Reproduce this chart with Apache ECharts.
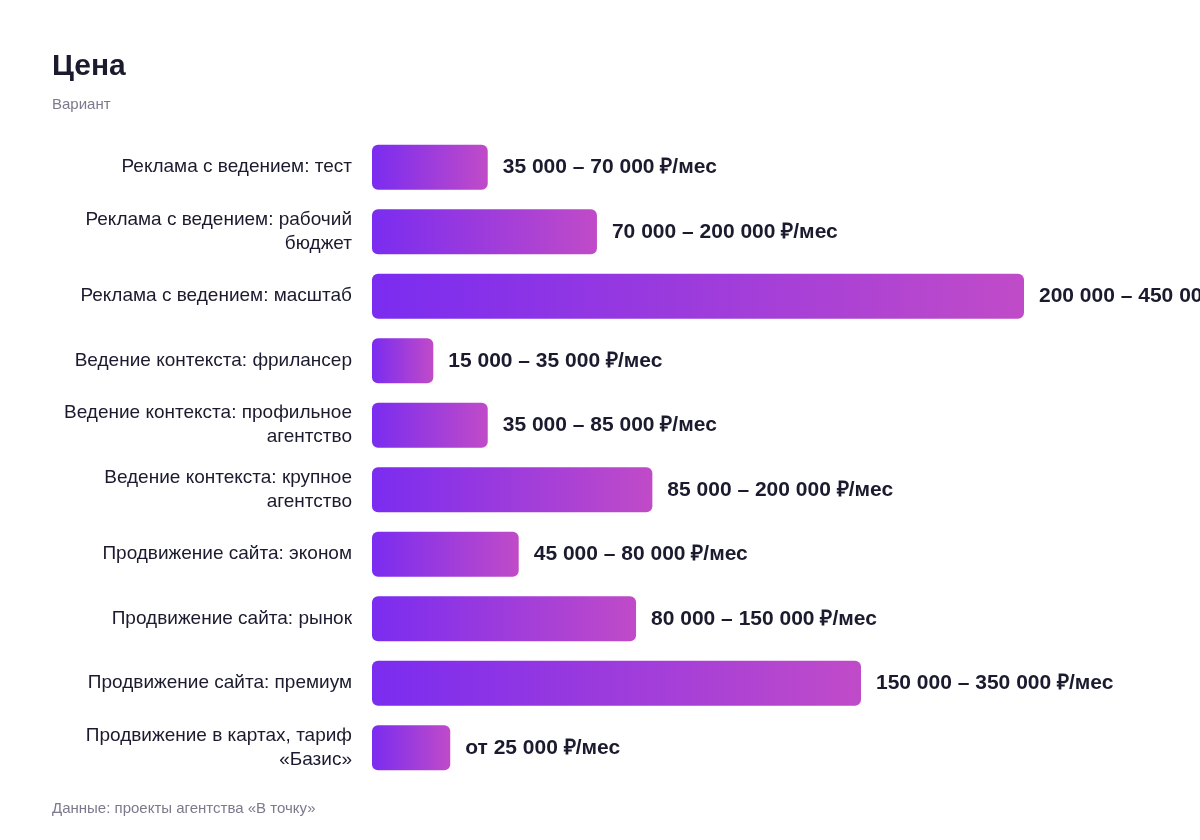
<!DOCTYPE html>
<html>
<head>
<meta charset="utf-8">
<script src="https://cdn.jsdelivr.net/npm/echarts@6/dist/echarts.min.js"></script>
<style>
html,body{margin:0;padding:0;background:#fff;}
#chart{width:1200px;height:840px;}
</style>
</head>
<body>
<div id="chart"></div>
<script>
var categories = [
  'Реклама с ведением: тест',
  'Реклама с ведением: рабочий бюджет',
  'Реклама с ведением: масштаб',
  'Ведение контекста: фрилансер',
  'Ведение контекста: профильное агентство',
  'Ведение контекста: крупное агентство',
  'Продвижение сайта: эконом',
  'Продвижение сайта: рынок',
  'Продвижение сайта: премиум',
  'Продвижение в картах, тариф «Базис»'
];
var barValues = [35500, 69000, 200000, 18800, 35500, 86000, 45000, 81000, 150000, 24000];
var priceLabels = [
  '35 000 – 70 000 ₽/мес',
  '70 000 – 200 000 ₽/мес',
  '200 000 – 450 000 ₽/мес',
  '15 000 – 35 000 ₽/мес',
  '35 000 – 85 000 ₽/мес',
  '85 000 – 200 000 ₽/мес',
  '45 000 – 80 000 ₽/мес',
  '80 000 – 150 000 ₽/мес',
  '150 000 – 350 000 ₽/мес',
  'от 25 000 ₽/мес'
];

var LABEL_SIZE = 19;
var measureCtx = document.createElement('canvas').getContext('2d');
function wrapLabel(text, maxW) {
  measureCtx.font = LABEL_SIZE + 'px "Liberation Sans"';
  var words = text.split(' ');
  var lines = [];
  var cur = '';
  words.forEach(function (w) {
    var test = cur ? cur + ' ' + w : w;
    if (cur && measureCtx.measureText(test).width > maxW) {
      lines.push(cur);
      cur = w;
    } else {
      cur = test;
    }
  });
  if (cur) lines.push(cur);
  return lines.join('\n');
}

var chart = echarts.init(document.getElementById('chart'), null, {renderer: 'canvas'});
var option = {
  backgroundColor: '#ffffff',
  animation: false,
  title: [
    {
      text: 'Цена',
      subtext: 'Вариант',
      left: 52,
      top: 52,
      padding: 0,
      itemGap: 15,
      textStyle: {fontFamily: 'Liberation Sans', fontSize: 30, fontWeight: 'bold', color: '#1b1a2e'},
      subtextStyle: {fontFamily: 'Liberation Sans', fontSize: 15, color: '#7b7a8c'}
    },
    {
      text: 'Данные: проекты агентства «В точку»',
      left: 52,
      top: 801,
      padding: 0,
      textStyle: {fontFamily: 'Liberation Sans', fontSize: 15, fontWeight: 'normal', color: '#7b7a8c'}
    }
  ],
  grid: {left: 372, right: 176, top: 135, bottom: 60, containLabel: false},
  xAxis: {
    type: 'value',
    min: 0,
    max: 200000,
    show: false
  },
  yAxis: {
    type: 'category',
    inverse: true,
    data: categories,
    axisLine: {show: false},
    axisTick: {show: false},
    splitLine: {show: false},
    axisLabel: {
      margin: 20,
      fontFamily: 'Liberation Sans',
      fontSize: LABEL_SIZE,
      color: '#1b1a2e',
      lineHeight: 24,
      align: 'right',
      padding: [4, 0, 0, 0],
      formatter: function (v) { return wrapLabel(v, 292); }
    }
  },
  series: [{
    type: 'bar',
    data: barValues,
    barWidth: 45,
    itemStyle: {
      borderRadius: 6,
      color: new echarts.graphic.LinearGradient(0, 0, 1, 0, [
        {offset: 0, color: '#7a2cf0'},
        {offset: 1, color: '#c04bc8'}
      ])
    },
    label: {
      show: true,
      position: 'right',
      distance: 15,
      padding: [2, 0, 0, 0],
      fontFamily: 'Liberation Sans',
      fontSize: 21,
      fontWeight: 'bold',
      color: '#1b1a2e',
      formatter: function (p) { return priceLabels[p.dataIndex]; }
    }
  }]
};
chart.setOption(option);
</script>
</body>
</html>
